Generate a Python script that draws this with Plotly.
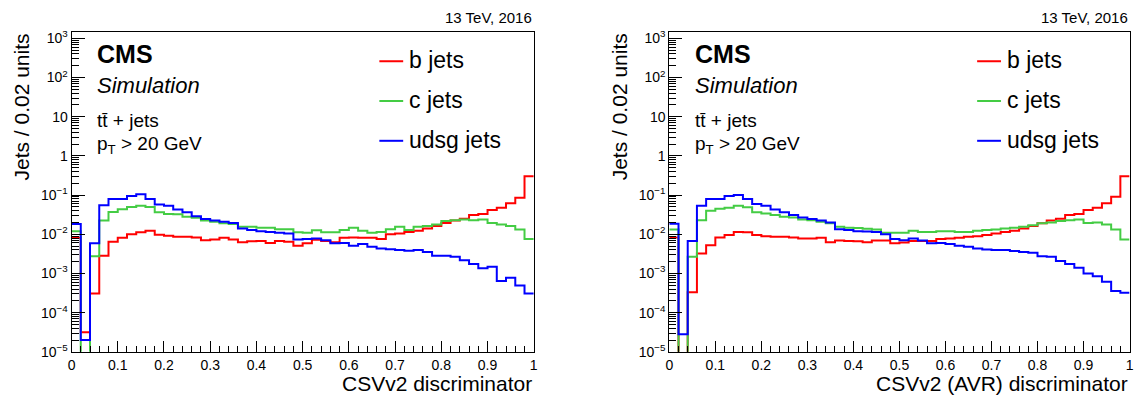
import plotly.graph_objects as go

# figure fills the whole 1142x403 page (body margin removed after rendering)
W, H = 1142, 403

# ---------------- data (values per 0.02 bin, 50 bins from 0 to 1) ----------------
bin_width = 0.02
n_bins = 50
x_edges = [round(i * bin_width, 2) for i in range(n_bins + 1)]

# Left panel: CSVv2 discriminator
left_b = [0.00813, 3.16e-5, 0.000309, 0.00282, 0.00646, 0.00813, 0.0100, 0.0112, 0.0123, 0.00977,
          0.00912, 0.00871, 0.00871, 0.00832, 0.00708, 0.00741, 0.00813, 0.00741, 0.00631, 0.00661,
          0.00676, 0.00603, 0.00676, 0.00646, 0.00513, 0.00589, 0.00724, 0.00676, 0.00631, 0.00813,
          0.00832, 0.00813, 0.00813, 0.00759, 0.0100, 0.0105, 0.0115, 0.0123, 0.0141, 0.0162,
          0.0195, 0.0224, 0.0251, 0.0309, 0.0331, 0.0417, 0.0479, 0.0617, 0.0851, 0.302]
left_c = [0.0120, 0.0, 0.00275, 0.0224, 0.0372, 0.0437, 0.0501, 0.0537, 0.0501, 0.0363,
          0.0331, 0.0324, 0.0282, 0.0263, 0.0224, 0.0209, 0.0191, 0.0182, 0.0155, 0.0155,
          0.0148, 0.0148, 0.0135, 0.0135, 0.0112, 0.0110, 0.0126, 0.0112, 0.0112, 0.0129,
          0.0148, 0.0123, 0.0110, 0.0115, 0.0135, 0.0155, 0.0129, 0.0155, 0.0162, 0.0178,
          0.0219, 0.0229, 0.0240, 0.0229, 0.0240, 0.0195, 0.0178, 0.0162, 0.0132, 0.00759]
left_udsg = [0.0182, 2.0e-5, 0.00589, 0.0550, 0.0794, 0.0794, 0.0955, 0.105, 0.0794, 0.0575,
             0.0537, 0.0427, 0.0363, 0.0288, 0.0245, 0.0224, 0.0209, 0.0195, 0.0141, 0.0129,
             0.0120, 0.0115, 0.0110, 0.0105, 0.00741, 0.00759, 0.00776, 0.00708, 0.00589, 0.00603,
             0.00513, 0.00562, 0.00479, 0.00437, 0.00417, 0.00398, 0.00380, 0.00398, 0.00355, 0.00282,
             0.00282, 0.00269, 0.00219, 0.00174, 0.00135, 0.00148, 0.000646, 0.000776, 0.000490, 0.000309]

# Right panel: CSVv2 (AVR) discriminator
right_b = [0.00832, 0.0, 0.000331, 0.00324, 0.00525, 0.00832, 0.00955, 0.0115, 0.0112, 0.00955,
           0.00891, 0.00871, 0.00871, 0.00832, 0.00776, 0.00776, 0.00813, 0.00631, 0.00692, 0.00676,
           0.00661, 0.00631, 0.00692, 0.00692, 0.00589, 0.00617, 0.00676, 0.00676, 0.00676, 0.00759,
           0.00776, 0.00813, 0.00871, 0.00891, 0.00955, 0.0105, 0.0115, 0.0123, 0.0141, 0.0162,
           0.0191, 0.0224, 0.0251, 0.0309, 0.0331, 0.0417, 0.0479, 0.0617, 0.0912, 0.302]
right_c = [0.0132, 0.0, 0.00269, 0.0229, 0.0398, 0.0447, 0.0479, 0.0537, 0.0490, 0.0363,
           0.0339, 0.0309, 0.0282, 0.0269, 0.0240, 0.0229, 0.0209, 0.0191, 0.0155, 0.0148,
           0.0145, 0.0138, 0.0132, 0.0110, 0.0110, 0.0110, 0.0123, 0.0115, 0.0115, 0.0120,
           0.0120, 0.0115, 0.0115, 0.0123, 0.0129, 0.0132, 0.0141, 0.0148, 0.0155, 0.0170,
           0.0191, 0.0200, 0.0219, 0.0229, 0.0240, 0.0195, 0.0200, 0.0178, 0.0132, 0.00741]
right_udsg = [0.0186, 2.82e-5, 0.00676, 0.0537, 0.0794, 0.0794, 0.0955, 0.100, 0.0794, 0.0589,
              0.0537, 0.0427, 0.0363, 0.0309, 0.0269, 0.0245, 0.0224, 0.0200, 0.0135, 0.0129,
              0.0120, 0.0117, 0.0115, 0.0100, 0.00759, 0.00708, 0.00776, 0.00692, 0.00589, 0.00603,
              0.00562, 0.00513, 0.00479, 0.00437, 0.00407, 0.00398, 0.00398, 0.00372, 0.00355, 0.00339,
              0.00275, 0.00269, 0.00209, 0.00174, 0.00141, 0.00100, 0.000851, 0.000617, 0.000355, 0.000324]

series_names = ["b jets", "c jets", "udsg jets"]
series_colors = ["#ff0000", "#44cc44", "#0000ff"]

x_titles = ["CSVv2 discriminator", "CSVv2 (AVR) discriminator"]
y_title = "Jets / 0.02 units"
energy_label = "13 TeV, 2016"

y_tickvals = [1e-5, 1e-4, 1e-3, 1e-2, 1e-1, 1, 10, 100, 1000]
y_ticktext = ["10<sup>\u22125</sup>", "10<sup>\u22124</sup>", "10<sup>\u22123</sup>",
              "10<sup>\u22122</sup>", "10<sup>\u22121</sup>", "1", "10",
              "10<sup>2</sup>", "10<sup>3</sup>"]
x_tickvals = [0, 0.1, 0.2, 0.3, 0.4, 0.5, 0.6, 0.7, 0.8, 0.9, 1]
x_ticktext = ["0", "0.1", "0.2", "0.3", "0.4", "0.5", "0.6", "0.7", "0.8", "0.9", "1"]

# ---------------- figure ----------------
FONT = "Liberation Sans, Arial, Helvetica, sans-serif"
FLOOR = 1e-9  # empty bins drawn below the visible range


def px_x(p):  # page pixel -> paper fraction
    return p / W


def px_y(p):
    return 1 - p / H


panels = [
    dict(data=[left_b, left_c, left_udsg], xd=(68.0, 533.5), xa="x", ya="y"),
    dict(data=[right_b, right_c, right_udsg], xd=(670.0, 1133.5), xa="x2", ya="y2"),
]

fig = go.Figure()
for pi, pan in enumerate(panels):
    for si, vals in enumerate(pan["data"]):
        yv = [v if v > 0 else FLOOR for v in vals]
        yv = yv + [yv[-1]]
        fig.add_trace(go.Scatter(
            x=x_edges, y=yv, mode="lines", line=dict(shape="hv", color=series_colors[si], width=2),
            xaxis=pan["xa"], yaxis=pan["ya"], showlegend=False, name=series_names[si],
            hoverinfo="skip"))

minor_y = []
for e in range(-5, 4):
    for m in range(2, 10):
        minor_y.append(m * 10 ** e)

ydom = [px_y(358.5), px_y(29.0)]
axis_common_x = dict(range=[0, 1], showgrid=False, zeroline=False, showline=True, mirror=True,
                     linecolor="#000000", linewidth=1, ticks="inside", ticklen=11, tickwidth=1,
                     tickcolor="#000000", tickvals=x_tickvals, ticktext=x_ticktext,
                     tickfont=dict(family=FONT, size=14, color="#000000"),
                     minor=dict(ticks="inside", ticklen=6, dtick=0.02, tick0=0, tickcolor="#000000",
                                showgrid=False))
axis_common_y = dict(type="log", range=[-5, 3.16], domain=ydom, showgrid=False, zeroline=False,
                     showline=True, mirror=True, linecolor="#000000", linewidth=1, ticks="inside",
                     ticklen=13, tickwidth=1, tickcolor="#000000", tickvals=y_tickvals,
                     ticktext=y_ticktext, tickfont=dict(family=FONT, size=14, color="#000000"),
                     minor=dict(ticks="inside", ticklen=7, tickmode="array", tickvals=minor_y,
                                tickcolor="#000000", showgrid=False))

fig.update_layout(
    width=W, height=H, margin=dict(l=0, r=0, t=0, b=0),
    paper_bgcolor="white", plot_bgcolor="white", showlegend=False,
    font=dict(family=FONT, color="#000000"),
    xaxis=dict(axis_common_x, domain=[px_x(panels[0]["xd"][0]), px_x(panels[0]["xd"][1])], anchor="y"),
    yaxis=dict(axis_common_y, anchor="x"),
    xaxis2=dict(axis_common_x, domain=[px_x(panels[1]["xd"][0]), px_x(panels[1]["xd"][1])], anchor="y2"),
    yaxis2=dict(axis_common_y, anchor="x2"),
)

annotations = []
shapes = []
for pi, pan in enumerate(panels):
    x0, x1 = pan["xd"]
    off = x0 - 68.0
    annotations.append(dict(text=energy_label, x=px_x(x1), y=px_y(14), xref="paper", yref="paper",
                            xanchor="right", yanchor="middle", showarrow=False,
                            font=dict(family=FONT, size=15)))
    annotations.append(dict(text=x_titles[pi], x=px_x(x1), y=px_y(391), xref="paper", yref="paper",
                            xanchor="right", yanchor="middle", showarrow=False,
                            font=dict(family=FONT, size=21)))
    annotations.append(dict(text=y_title, x=px_x(18 + off), y=px_y(28), xref="paper", yref="paper",
                            xanchor="center", yanchor="top", textangle=-90, showarrow=False,
                            font=dict(family=FONT, size=21)))
    tx = px_x(92 + off)
    annotations.append(dict(text="<b>CMS</b>", x=tx, y=px_y(51.5), xref="paper", yref="paper",
                            xanchor="left", yanchor="middle", showarrow=False,
                            font=dict(family=FONT, size=25)))
    annotations.append(dict(text="<i>Simulation</i>", x=tx, y=px_y(83.5), xref="paper", yref="paper",
                            xanchor="left", yanchor="middle", showarrow=False,
                            font=dict(family=FONT, size=22)))
    annotations.append(dict(text="tt\u0304 + jets", x=tx, y=px_y(120.5), xref="paper", yref="paper",
                            xanchor="left", yanchor="middle", showarrow=False,
                            font=dict(family=FONT, size=19)))
    annotations.append(dict(text="p<sub>T</sub> > 20 GeV", x=tx, y=px_y(145), xref="paper",
                            yref="paper", xanchor="left", yanchor="middle", showarrow=False,
                            font=dict(family=FONT, size=19)))
    leg_y = [59, 100, 141]
    for si in range(3):
        shapes.append(dict(type="line", xref="paper", yref="paper",
                           x0=px_x(378 + off), x1=px_x(402 + off), y0=px_y(leg_y[si]),
                           y1=px_y(leg_y[si]), line=dict(color=series_colors[si], width=2)))
        annotations.append(dict(text=series_names[si], x=px_x(406 + off), y=px_y(leg_y[si] - 1),
                                xref="paper", yref="paper", xanchor="left", yanchor="middle",
                                showarrow=False, font=dict(family=FONT, size=23)))

fig.update_layout(annotations=annotations, shapes=shapes)
fig.write_html("out.html", config={"displayModeBar": False, "staticPlot": True},
               post_script="document.body.style.margin='0';document.body.style.overflow='hidden';")
